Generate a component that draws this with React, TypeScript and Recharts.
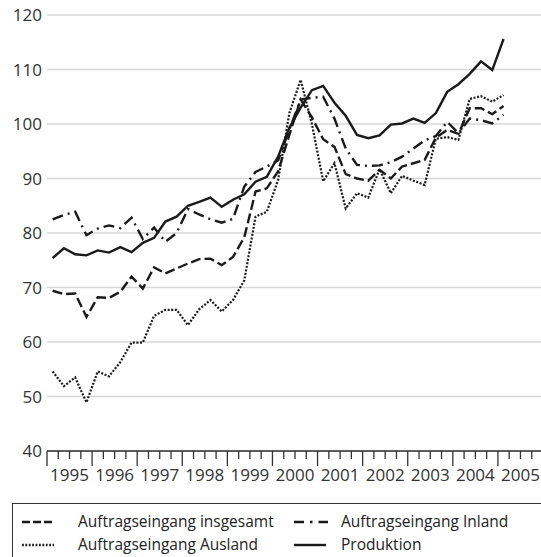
import { CartesianGrid, Legend, Line, LineChart, XAxis, YAxis } from "recharts";

const years = ["1995", "1996", "1997", "1998", "1999", "2000", "2001", "2002", "2003", "2004", "2005"];

// quartale 1995 Q1 bis 2005 Q1
const quartale = years
  .slice(0, 10)
  .flatMap((y) => ["Q1", "Q2", "Q3", "Q4"].map((q) => `${y} ${q}`))
  .concat(["2005 Q1"]);

const insgesamt = [
  69.4, 68.8, 68.9, 64.6, 68.2, 68.1, 69.2, 72.0, 69.8, 73.7,
  72.6, 73.5, 74.4, 75.2, 75.3, 74.1, 75.6, 79.2, 87.6, 88.2,
  91.3, 98.0, 104.5, 101.2, 97.2, 95.8, 90.8, 90.0, 89.6, 91.6,
  90.0, 92.2, 92.8, 93.4, 97.5, 98.9, 98.2, 102.9, 102.9, 101.8,
  103.3,
];

const inland = [
  82.5, 83.3, 83.9, 79.6, 80.8, 81.4, 80.9, 82.8, 78.9, 81.0,
  78.4, 80.0, 84.4, 83.4, 82.5, 81.9, 82.6, 88.5, 91.2, 92.2,
  93.3, 99.0, 104.5, 104.8, 105.0, 101.0, 95.5, 92.5, 92.3, 92.4,
  93.0, 94.0, 95.5, 97.0, 97.8, 100.4, 98.3, 101.0, 100.7, 100.1,
  101.7,
];

const ausland = [
  54.6, 51.9, 53.5, 48.9, 54.6, 53.7, 56.3, 59.9, 59.9, 64.8,
  65.9, 65.9, 63.1, 66.0, 67.7, 65.6, 67.7, 71.3, 83.0, 83.9,
  89.7, 102.0, 108.1, 100.0, 89.5, 92.8, 84.5, 87.3, 86.5, 91.7,
  87.3, 90.5, 89.6, 88.8, 97.3, 97.6, 97.1, 104.6, 105.1, 104.1,
  105.3,
];

const produktion = [
  75.4, 77.2, 76.1, 75.9, 76.8, 76.4, 77.4, 76.5, 78.2, 79.1,
  82.1, 83.0, 85.0, 85.7, 86.5, 84.8, 86.1, 87.1, 89.4, 90.3,
  94.0, 99.3, 103.0, 106.2, 107.0, 103.9, 101.5, 98.0, 97.4, 97.9,
  99.9, 100.1, 101.0, 100.2, 102.0, 105.9, 107.3, 109.2, 111.5, 109.9,
  115.6,
];

const yTicks = [40, 50, 60, 70, 80, 90, 100, 110, 120];

const serien = [
  { key: "insgesamt", name: "Auftragseingang insgesamt", dash: "10 4", legendDash: "8 3" },
  { key: "inland", name: "Auftragseingang Inland", dash: "11 5 2 5", legendDash: "10 6 2.5 6" },
  { key: "ausland", name: "Auftragseingang Ausland", dash: "2 1.6", legendDash: "1.8 1.6" },
  { key: "produktion", name: "Produktion", dash: undefined, legendDash: undefined },
];

const data = quartale.map((q, i) => ({
  quartal: q,
  t: i + 0.5,
  insgesamt: insgesamt[i],
  inland: inland[i],
  ausland: ausland[i],
  produktion: produktion[i],
}));

const xTicks = Array.from({ length: 45 }, (_, i) => i);

const LINE = "#1a1a1a";
const TEXT = "#333";

const JahrTick = (props: any) => {
  const { x, y, payload } = props;
  const q = payload.value as number;
  const major = q % 4 === 0;
  return (
    <g>
      <line x1={x} x2={x} y1={y} y2={y + (major ? 15 : 8)} stroke={TEXT} strokeWidth={1.3} />
      {q % 4 === 2 && (
        <text x={x} y={y + 30} textAnchor="middle" fill={TEXT} fontSize={17}>
          {years[(q - 2) / 4]}
        </text>
      )}
    </g>
  );
};

const Legende = () => {
  const pos = [
    { left: 9, top: 6, textLeft: 65 },
    { left: 281, top: 6, textLeft: 328 },
    { left: 9, top: 29, textLeft: 65 },
    { left: 281, top: 29, textLeft: 328 },
  ];
  return (
    <div style={{ paddingTop: 7 }}>
      <div
        style={{
          position: "relative",
          border: "1.3px solid #333",
          height: 70,
          width: 560,
          boxSizing: "border-box",
        }}
      >
        {serien.map((s, i) => (
          <div key={s.key}>
            <svg
              width={40}
              height={10}
              style={{ position: "absolute", left: pos[i].left, top: pos[i].top + 7 }}
            >
              <line
                x1={0}
                x2={i === 1 ? 34 : 32}
                y1={5}
                y2={5}
                stroke={LINE}
                strokeWidth={2.4}
                strokeDasharray={s.legendDash}
              />
            </svg>
            <span
              style={{
                position: "absolute",
                left: pos[i].textLeft,
                top: pos[i].top,
                fontSize: 15.5,
                lineHeight: "22px",
                color: "#222",
                whiteSpace: "nowrap",
              }}
            >
              {s.name}
            </span>
          </div>
        ))}
      </div>
    </div>
  );
};

const App = () => {
  return (
    <div
      style={{
        position: "absolute",
        left: 8,
        top: 0,
        width: 533,
        height: 557,
        overflow: "hidden",
        fontFamily: "'Open Sans', sans-serif",
        background: "#fff",
      }}
    >
      <LineChart width={535} height={566} data={data} margin={{ top: 15, right: 0, left: 0, bottom: 0 }}>
        <CartesianGrid vertical={false} stroke="#d6d6d6" strokeWidth={1.5} />
        <XAxis
          type="number"
          dataKey="t"
          domain={[0, 44]}
          ticks={xTicks}
          interval={0}
          tick={<JahrTick />}
          tickLine={false}
          tickSize={0}
          tickMargin={0}
          axisLine={{ stroke: TEXT, strokeWidth: 1.5 }}
          height={45}
        />
        <YAxis
          domain={[40, 120]}
          ticks={yTicks}
          interval={0}
          axisLine={false}
          tickLine={false}
          tickSize={0}
          tickMargin={5}
          width={39}
          tick={{ fill: TEXT, fontSize: 17 }}
        />
        <Legend
          verticalAlign="bottom"
          content={<Legende />}
          wrapperStyle={{ left: 4, height: 70, width: 560 }}
        />
        {serien.map((s) => (
          <Line
            key={s.key}
            type="linear"
            dataKey={s.key}
            name={s.name}
            stroke={LINE}
            strokeWidth={s.key === "ausland" ? 2.2 : 2.4}
            strokeDasharray={s.dash}
            dot={false}
            activeDot={false}
            isAnimationActive={false}
          />
        ))}
      </LineChart>
    </div>
  );
};

export default App;
